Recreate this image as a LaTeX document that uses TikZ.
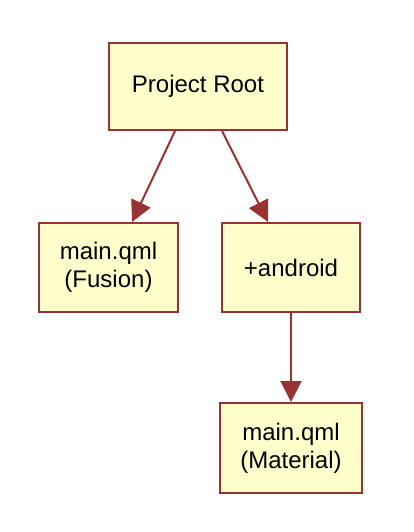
\documentclass[tikz,border=0pt]{standalone}
\usepackage{fontspec}
\setmainfont{Liberation Sans}
\usetikzlibrary{arrows.meta}
\definecolor{boxfill}{HTML}{FFFFCC}
\definecolor{boxline}{HTML}{993333}
\tikzset{
  box/.style={draw=boxline, fill=boxfill, line width=2pt, align=center, inner sep=0pt, font=\fontsize{24}{28}\selectfont},
  arr/.style={draw=boxline, line width=2pt, -{Triangle[length=21pt,width=21pt]}}
}
\begin{document}
\begin{tikzpicture}[x=1pt,y=-1pt]
\useasboundingbox (0,0) rectangle (413,532);
\node[box, minimum width=178pt, minimum height=87pt] (root) at (198,86.5) {Project Root};
\node[box, minimum width=139pt, minimum height=89pt] (fusion) at (108.5,267.5) {main.qml\\(Fusion)};
\node[box, minimum width=138pt, minimum height=89pt] (android) at (291,267.5) {+android};
\node[box, minimum width=142pt, minimum height=90pt] (material) at (291,448) {main.qml\\(Material)};
\draw[arr] ([xshift=-23pt]root.south) -- ([xshift=23.5pt]fusion.north);
\draw[arr] ([xshift=24pt]root.south) -- ([xshift=-23pt]android.north);
\draw[arr] (android.south) -- (material.north);
\end{tikzpicture}
\end{document}
